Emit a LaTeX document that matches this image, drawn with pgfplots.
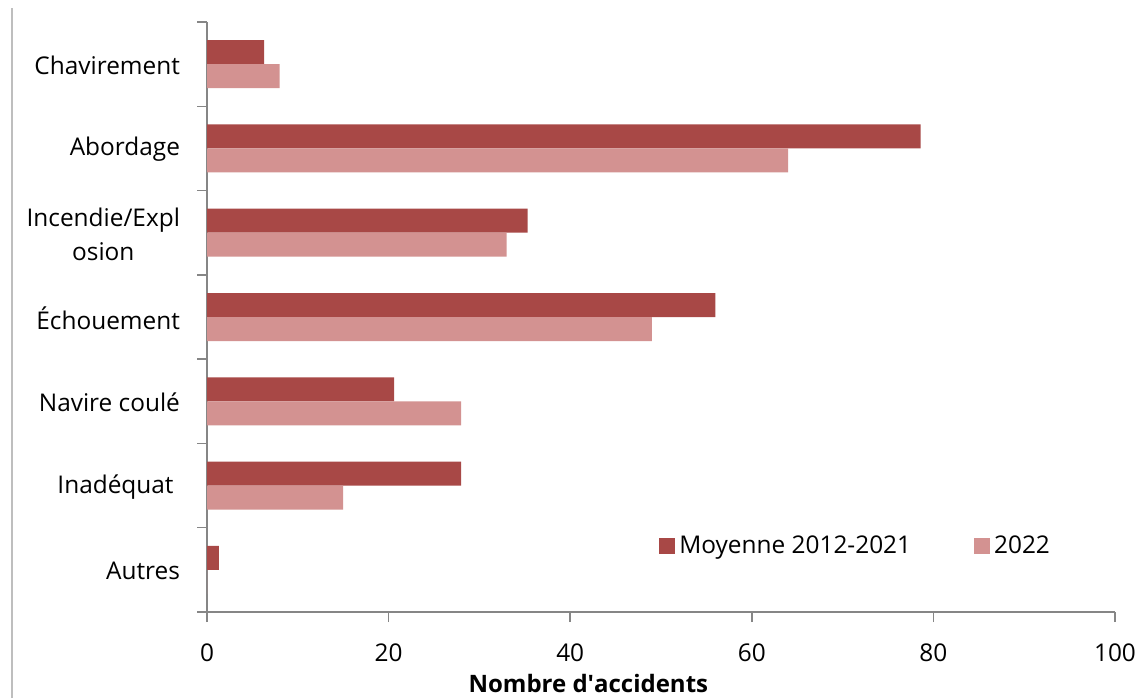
\documentclass[border=0pt]{standalone}
\usepackage{pgfplots}
\pgfplotsset{compat=1.18}
\usepackage{fontspec}
\setmainfont{Open Sans}
\definecolor{darkred}{RGB}{168,72,70}
\definecolor{lightred}{RGB}{211,146,145}
\definecolor{axisgray}{RGB}{134,134,134}
\definecolor{framegray}{RGB}{190,190,190}
\begin{document}
\begin{tikzpicture}[x=1pt,y=1pt]
\path[use as bounding box] (0,0) rectangle (569.5,349);
\draw[framegray, line width=0.7pt] (6,0) -- (6,345);
\begin{axis}[
  at={(103.5pt,43pt)}, anchor=south west,
  scale only axis, width=454pt, height=295pt,
  xbar, bar width=12pt,
  xmin=0, xmax=100, xtick={0,20,...,100},
  ymin=-0.5, ymax=6.5,
  ytick={-0.5,0.5,1.5,2.5,3.5,4.5,5.5},
  yticklabels={Autres, {Inadéquat\ }, Navire coulé, Échouement, {Incendie/Expl\\osion}, Abordage, Chavirement},
  yticklabel style={yshift=20.5pt, align=center, xshift=-5pt, font=\fontsize{12.2}{17}\selectfont},
  xticklabel style={yshift=-7.5pt, font=\fontsize{12.2}{14}\selectfont},
  extra y ticks={6.5}, extra y tick labels={},
  axis x line*=bottom, axis y line*=left,
  axis line style={axisgray, line width=0.75pt},
  tick style={axisgray, line width=0.75pt},
  tick align=outside, major tick length=5pt,
  font=\fontsize{12}{14}\selectfont,
  /pgf/number format/assume math mode=true,
  xlabel={Nombre d\textquotesingle accidents},
  xlabel style={font=\bfseries\fontsize{12}{14}\selectfont, at={(axis description cs:0.42,-0.122)}, anchor=center},
  legend style={at={(axis description cs:0.4912,0.112)}, anchor=west, draw=none, fill=none,
    legend columns=2, font=\fontsize{12.2}{14}\selectfont,
    /tikz/every even column/.append style={column sep=29.5pt}},
  legend image code/.code={\fill[#1] (0pt,-4pt) rectangle (8pt,4pt);},
]
\addplot[fill=darkred, draw=none, bar shift=6pt] coordinates {(1.3,0) (28,1) (20.6,2) (56,3) (35.3,4) (78.6,5) (6.3,6)};
\addplot[fill=lightred, draw=none, bar shift=-6pt] coordinates {(0,0) (15,1) (28,2) (49,3) (33,4) (64,5) (8,6)};
\legend{Moyenne 2012-2021, 2022}
\end{axis}
\end{tikzpicture}
\end{document}
